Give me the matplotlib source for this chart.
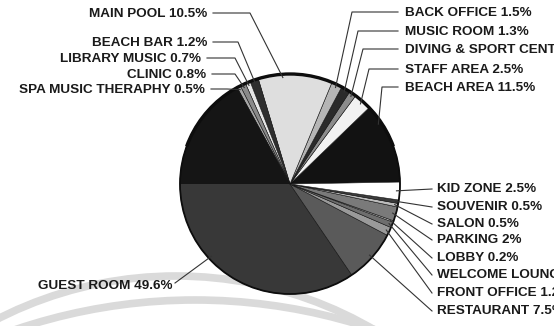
import matplotlib.pyplot as plt
from matplotlib.patches import Wedge, Circle, Arc
import numpy as np

W, H = 554, 326

# area shares (%), listed counter-clockwise starting from the beach area
areas = ['BEACH AREA', 'STAFF AREA', 'DIVING & SPORT CENTER', 'MUSIC ROOM', 'BACK OFFICE',
         'MAIN POOL', 'BEACH BAR', 'LIBRARY MUSIC', 'CLINIC', 'SPA MUSIC THERAPHY',
         'GUEST ROOM', 'RESTAURANT', 'FRONT OFFICE', 'WELCOME LOUNGE', 'LOBBY',
         'PARKING', 'SALON', 'SOUVENIR', 'KID ZONE']
shares = [11.5, 2.5, 1.0, 1.3, 1.5,
          10.5, 1.2, 0.7, 0.8, 0.5,
          49.6, 7.5, 1.2, 0.8, 0.2,
          2.0, 0.5, 0.5, 2.5]
shades = ['#121212', '#f2f2f2', '#8c8c8c', '#2a2a2a', '#b5b5b5',
          '#dedede', '#2e2e2e', '#e6e6e6', '#8a8a8a', '#a8a8a8',
          '#383838', '#5a5a5a', '#9a9a9a', '#6e6e6e', '#d0d0d0',
          '#7a7a7a', '#bdbdbd', '#3c3c3c', '#ffffff']

# label placement in pixels: text x, text y (from top), alignment, elbow x, spot along the wedge
layout = {
    'MAIN POOL':             (207, 14, 'right', 250, 0.67),
    'BEACH BAR':             (207, 43, 'right', 238, 0.5),
    'LIBRARY MUSIC':         (201, 59, 'right', 235, 0.5),
    'CLINIC':                (206, 75, 'right', 235, 0.5),
    'SPA MUSIC THERAPHY':    (205, 90, 'right', 227, 0.5),
    'BACK OFFICE':           (405, 13, 'left', 352, 0.5),
    'MUSIC ROOM':            (405, 32, 'left', 358, 0.5),
    'DIVING & SPORT CENTER': (405, 50, 'left', 363, 0.5),
    'STAFF AREA':            (405, 70, 'left', 369, 0.5),
    'BEACH AREA':            (405, 88, 'left', 382, 0.77),
    'KID ZONE':              (437, 189, 'left', None, 0.5),
    'SOUVENIR':              (437, 207, 'left', None, 0.5),
    'SALON':                 (437, 224, 'left', None, 0.5),
    'PARKING':               (437, 240, 'left', None, 0.5),
    'LOBBY':                 (437, 258, 'left', None, 0.5),
    'WELCOME LOUNGE':        (437, 275, 'left', None, 0.5),
    'FRONT OFFICE':          (437, 293, 'left', None, 0.5),
    'RESTAURANT':            (437, 311, 'left', None, 0.5),
    'GUEST ROOM':            (172, 286, 'right', None, 0.56),
}

fig = plt.figure(figsize=(W / 100, H / 100), dpi=100)
ax = fig.add_axes([0, 0, 1, 1])

# faint background bands
ax.add_patch(Arc((176, H - 668), 2 * 392, 2 * 392, theta1=45, theta2=135,
                 color='#dadada', lw=5.5, zorder=0))
ax.add_patch(Arc((195, H - 860), 2 * 560, 2 * 560, theta1=60, theta2=120,
                 color='#dadada', lw=5.5, zorder=0))

cx, cy, r = 290, H - 184, 110
wedges, _ = ax.pie(shares, colors=shades, startangle=1, counterclock=True,
                   radius=r, center=(cx, cy), frame=True,
                   wedgeprops=dict(edgecolor='#111111', linewidth=0.4))

# guest room upper half prints darker
g = wedges[areas.index('GUEST ROOM')]
ax.add_patch(Wedge((cx, cy), r, g.theta1, 180, facecolor='#151515',
                   edgecolor='none', zorder=g.get_zorder() + 0.1))
ax.add_patch(Circle((cx, cy), r, fill=False, edgecolor='#0d0d0d', lw=1.3, zorder=5))
ax.add_patch(Arc((cx, cy), 2 * r, 2 * r, theta1=20, theta2=160,
                 color='#0d0d0d', lw=2.4, zorder=5))

line_kw = dict(color='#333333', lw=0.8, zorder=6)
for name, share, w in zip(areas, shares, wedges):
    tx, ty, ha, ex, frac = layout[name]
    ty = H - ty
    ang = np.deg2rad(w.theta1 + frac * (w.theta2 - w.theta1))
    px, py = cx + 0.97 * r * np.cos(ang), cy + 0.97 * r * np.sin(ang)
    ax.text(tx, ty, f'{name} {share:g}%', ha=ha, va='center', fontsize=9.7,
            fontweight='bold', family='Liberation Sans', color='#1a1a1a', zorder=7)
    if ex is not None:
        sx = tx + 6 if ha == 'right' else tx - 7
        ax.plot([sx, ex, px], [ty + 1, ty + 1, py], **line_kw)
    elif ha == 'left':
        ax.plot([px, tx - 5], [py, ty], **line_kw)
    else:
        ax.plot([tx + 3, px], [ty + 3, py], **line_kw)

ax.set_xlim(0, W)
ax.set_ylim(0, H)
ax.axis('off')
fig.savefig('out.png', dpi=100, facecolor='white')
